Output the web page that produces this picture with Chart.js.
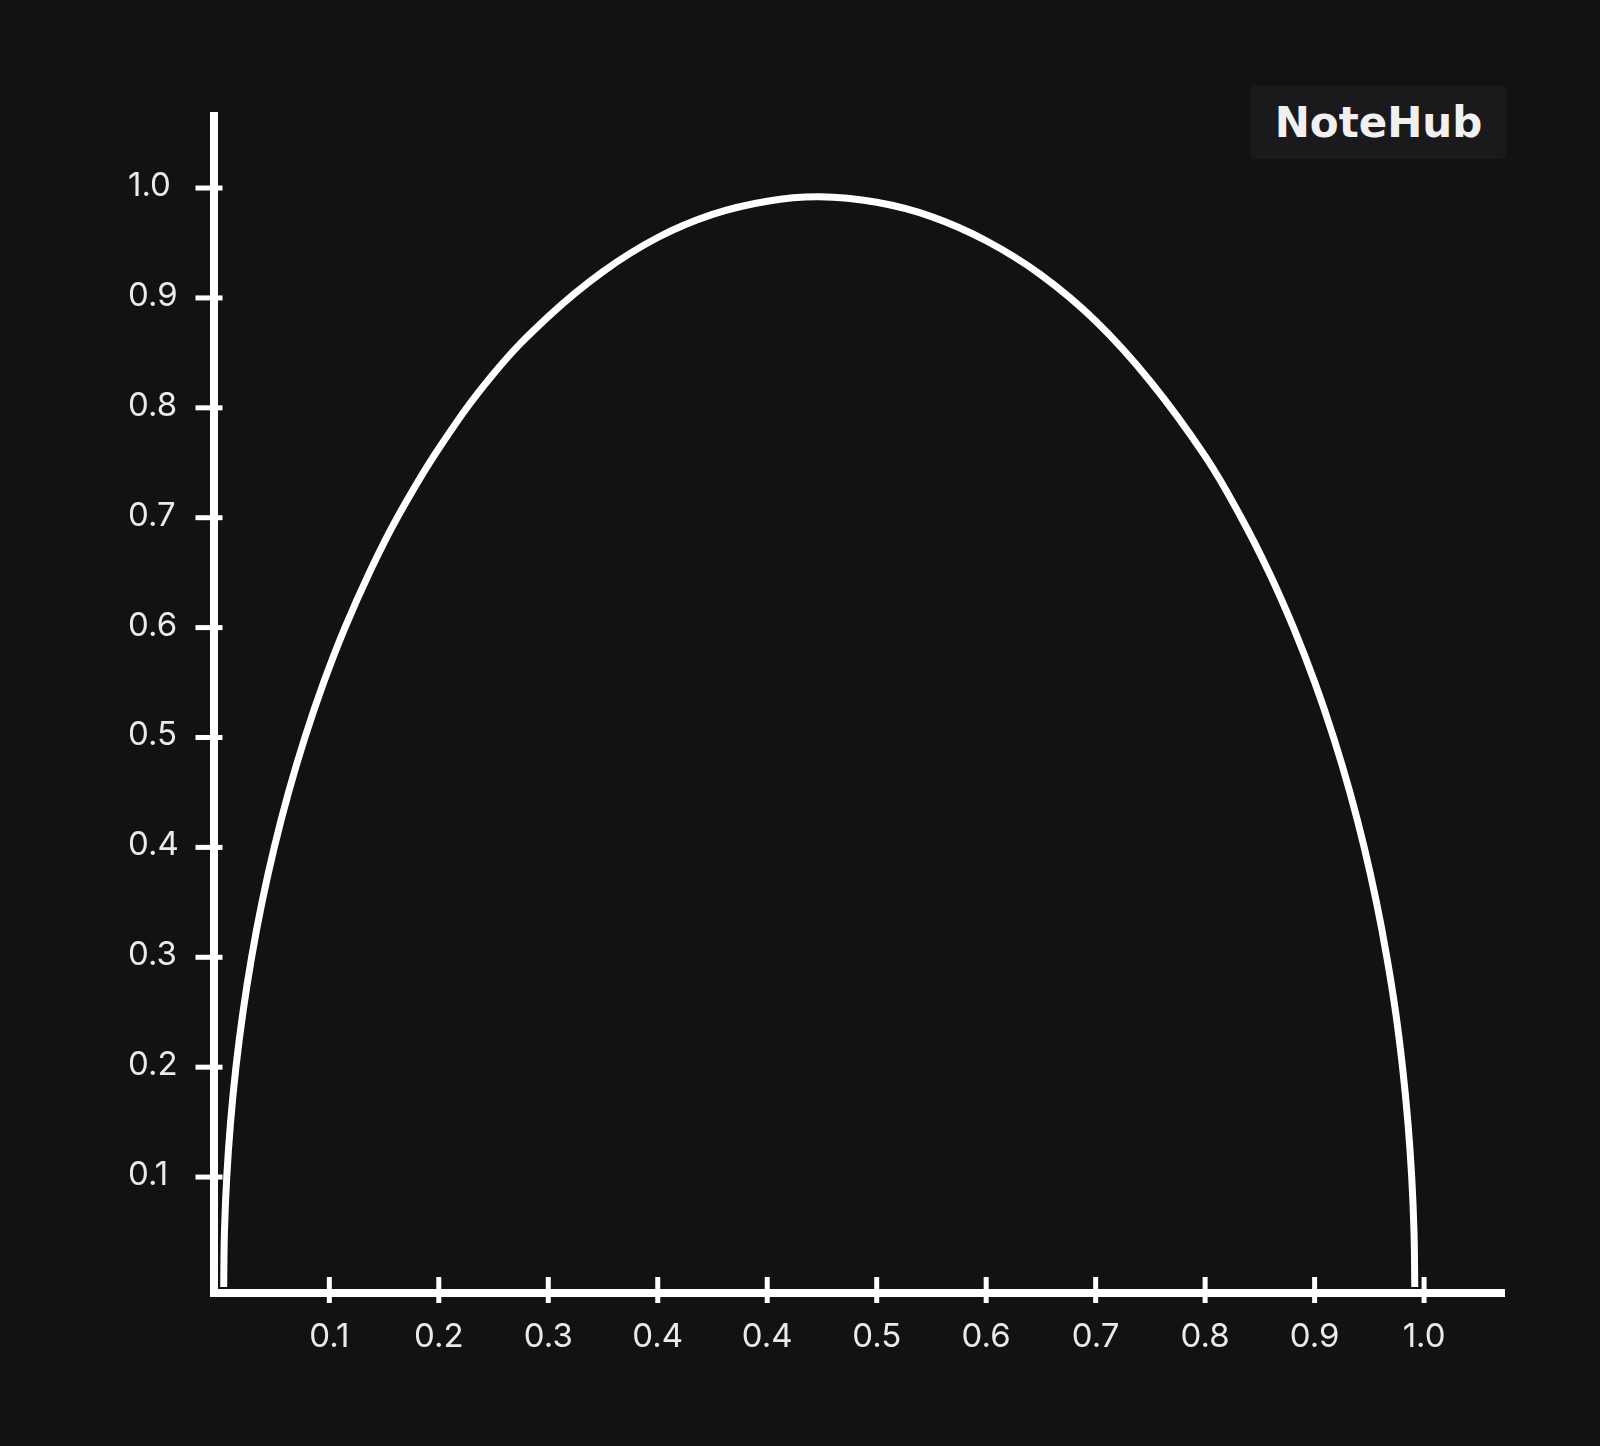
<!DOCTYPE html>
<html>
<head>
<meta charset="utf-8">
<title>Curve</title>
<script src="https://cdn.jsdelivr.net/npm/chart.js@4.4.1/dist/chart.umd.min.js"></script>
<style>
  html, body { margin: 0; padding: 0; background: #121212; }
  #wrap { position: relative; width: 1600px; height: 1446px; }
  .logo {
    position: absolute; left: 1251px; top: 86px; width: 255px; height: 73px;
    background: #1a1a1c; border-radius: 4px; color: #f0f0f0;
    font: bold 42px "DejaVu Sans", sans-serif;
    display: flex; align-items: center; justify-content: center;
  }
</style>
</head>
<body>
<div id="wrap">
  <canvas id="curveChart"></canvas>
  <div class="logo">NoteHub</div>
</div>
<script>
// Values (x in tick steps, y in axis units)
const xValues = [0.035, 0.042, 0.063, 0.098, 0.147, 0.211, 0.290, 0.385, 0.497, 0.627, 0.777, 0.948,
  1.143, 1.366, 1.620, 2.0, 2.5, 3.0, 3.5, 4.0, 4.5, 5.0, 5.475, 6.0, 6.5,
  7.0, 7.5, 8.0, 8.5, 9.0, 9.330, 9.585, 9.807, 10.002, 10.173, 10.323, 10.453,
  10.565, 10.660, 10.740, 10.803, 10.852, 10.887, 10.908, 10.915];
const yValues = [0, 0.05, 0.1, 0.15, 0.2, 0.25, 0.3, 0.35, 0.4, 0.45, 0.5, 0.55,
  0.6, 0.65, 0.7, 0.763, 0.831, 0.883, 0.924, 0.955, 0.976, 0.988, 0.992, 0.987, 0.974,
  0.952, 0.921, 0.879, 0.824, 0.756, 0.7, 0.65, 0.6, 0.55, 0.5, 0.45, 0.4,
  0.35, 0.3, 0.25, 0.2, 0.15, 0.1, 0.05, 0];

const xTickLabels = ["0.1", "0.2", "0.3", "0.4", "0.4", "0.5", "0.6", "0.7", "0.8", "0.9", "1.0"];
const yTickValues = [0.1, 0.2, 0.3, 0.4, 0.5, 0.6, 0.7, 0.8, 0.9, 1.0];

const textColor = "#eaeaea";
const lineColor = "#ffffff";

// small tick marks that cross the axis lines
const tickMarks = {
  id: "tickMarks",
  afterDraw(chart) {
    const ctx = chart.ctx;
    const area = chart.chartArea;
    const xs = chart.scales.x;
    const ys = chart.scales.y;
    ctx.save();
    ctx.strokeStyle = lineColor;
    ctx.lineWidth = 5;
    xs.ticks.forEach((t) => {
      const px = xs.getPixelForValue(t.value);
      ctx.beginPath();
      ctx.moveTo(px, area.bottom - 16);
      ctx.lineTo(px, area.bottom + 10);
      ctx.stroke();
    });
    ys.ticks.forEach((t) => {
      const py = ys.getPixelForValue(t.value);
      ctx.beginPath();
      ctx.moveTo(area.left - 18, py);
      ctx.lineTo(area.left + 9, py);
      ctx.stroke();
    });
    ctx.restore();
  },
};

document.addEventListener("DOMContentLoaded", function () {
  const ctx = document.getElementById("curveChart").getContext("2d");

  const points = xValues.map((x, i) => ({ x: x, y: yValues[i] }));

  new Chart(ctx, {
    type: "line",
    data: {
      datasets: [
        {
          data: points,
          borderColor: lineColor,
          borderWidth: 7,
          pointRadius: 0,
          fill: false,
          tension: 0.4,
        },
      ],
    },
    options: {
      responsive: true,
      maintainAspectRatio: false,
      animation: false,
      layout: {
        padding: { left: 128, top: 115.5, right: 96, bottom: 0 },
      },
      plugins: {
        legend: { display: false },
        tooltip: { enabled: false },
      },
      scales: {
        x: {
          type: "linear",
          min: -0.058,
          max: 11.73,
          afterFit: function (scale) {
            scale.height = 153;
          },
          afterBuildTicks: function (scale) {
            scale.ticks = xTickLabels.map((_, i) => ({ value: i + 1 }));
          },
          grid: { display: false, drawTicks: false },
          border: { display: true, color: lineColor, width: 8 },
          ticks: {
            color: textColor,
            padding: 24,
            maxRotation: 0,
            autoSkip: false,
            font: { family: "Inter", size: 33 },
            callback: function (value, index) {
              return xTickLabels[index];
            },
          },
        },
        y: {
          type: "linear",
          min: -0.0055,
          max: 1.066,
          afterFit: function (scale) {
            scale.width = 85.5;
          },
          afterBuildTicks: function (scale) {
            scale.ticks = yTickValues.map((v) => ({ value: v }));
          },
          grid: { display: false, drawTicks: false },
          border: { display: true, color: lineColor, width: 8 },
          ticks: {
            color: textColor,
            crossAlign: "far",
            labelOffset: -2,
            autoSkip: false,
            font: { family: "Inter", size: 33 },
            callback: function (value) {
              return value.toFixed(1);
            },
          },
        },
      },
    },
    plugins: [tickMarks],
  });
});
</script>
</body>
</html>
